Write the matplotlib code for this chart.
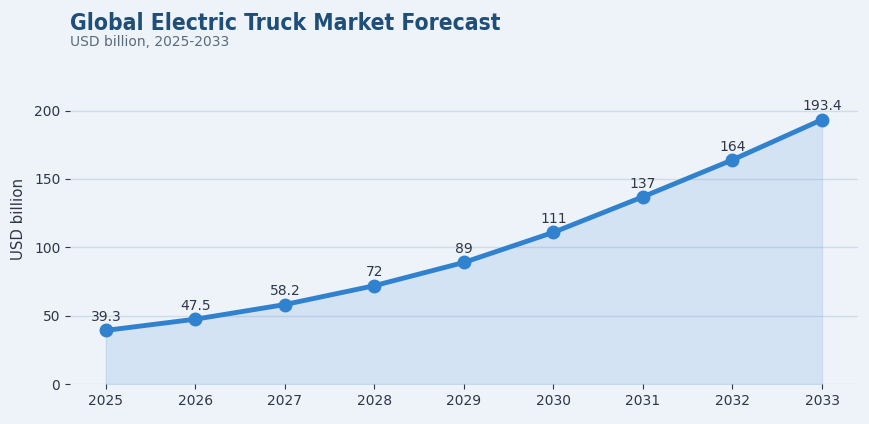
import matplotlib
matplotlib.use('Agg')
from matplotlib import pyplot as plt

years = [2025, 2026, 2027, 2028, 2029, 2030, 2031, 2032, 2033]
values = [39.3, 47.5, 58.2, 72, 89, 111, 137, 164, 193.4]
labels = ['39.3', '47.5', '58.2', '72', '89', '111', '137', '164', '193.4']

bg = '#eef3fa'
line_color = '#3182ce'

fig = plt.figure(figsize=(8.7, 4.24), dpi=100, facecolor=bg)
ax = fig.add_axes([0.0805, 0.094, 0.9055, 0.779], facecolor=bg)

ax.fill_between(years, values, 0, color=line_color, alpha=0.14, linewidth=1)
ax.plot(years, values, color=line_color, linewidth=3.5, marker='o', markersize=9, zorder=3)

for x, y, s in zip(years, values, labels):
    ax.annotate(s, (x, y), xytext=(0, 4.5), textcoords='offset points',
                ha='center', va='bottom', fontsize=10, color='#2d3748')

ax.set_ylim(0, 241.5)
ax.set_xticks(years)
ax.set_yticks([0, 50, 100, 150, 200])
ax.grid(axis='y', color='#d2dce8', linewidth=1)
ax.set_axisbelow(True)
for sp in ax.spines.values():
    sp.set_visible(False)
ax.tick_params(colors='#2d3748', labelsize=10)
ax.set_ylabel('USD billion', fontsize=10.8, color='#2d3748', labelpad=6)

# title in condensed bold, subtitle normal
fig.text(0.0805, 0.945, 'Global Electric Truck Market Forecast', fontsize=16.4,
         fontweight='bold', fontstretch='condensed', color='#1f4e79', va='center')
fig.text(0.0805, 0.9, 'USD billion, 2025-2033', fontsize=10, color='#5a6b7b', va='center')

fig.savefig('out.png', facecolor=bg)
